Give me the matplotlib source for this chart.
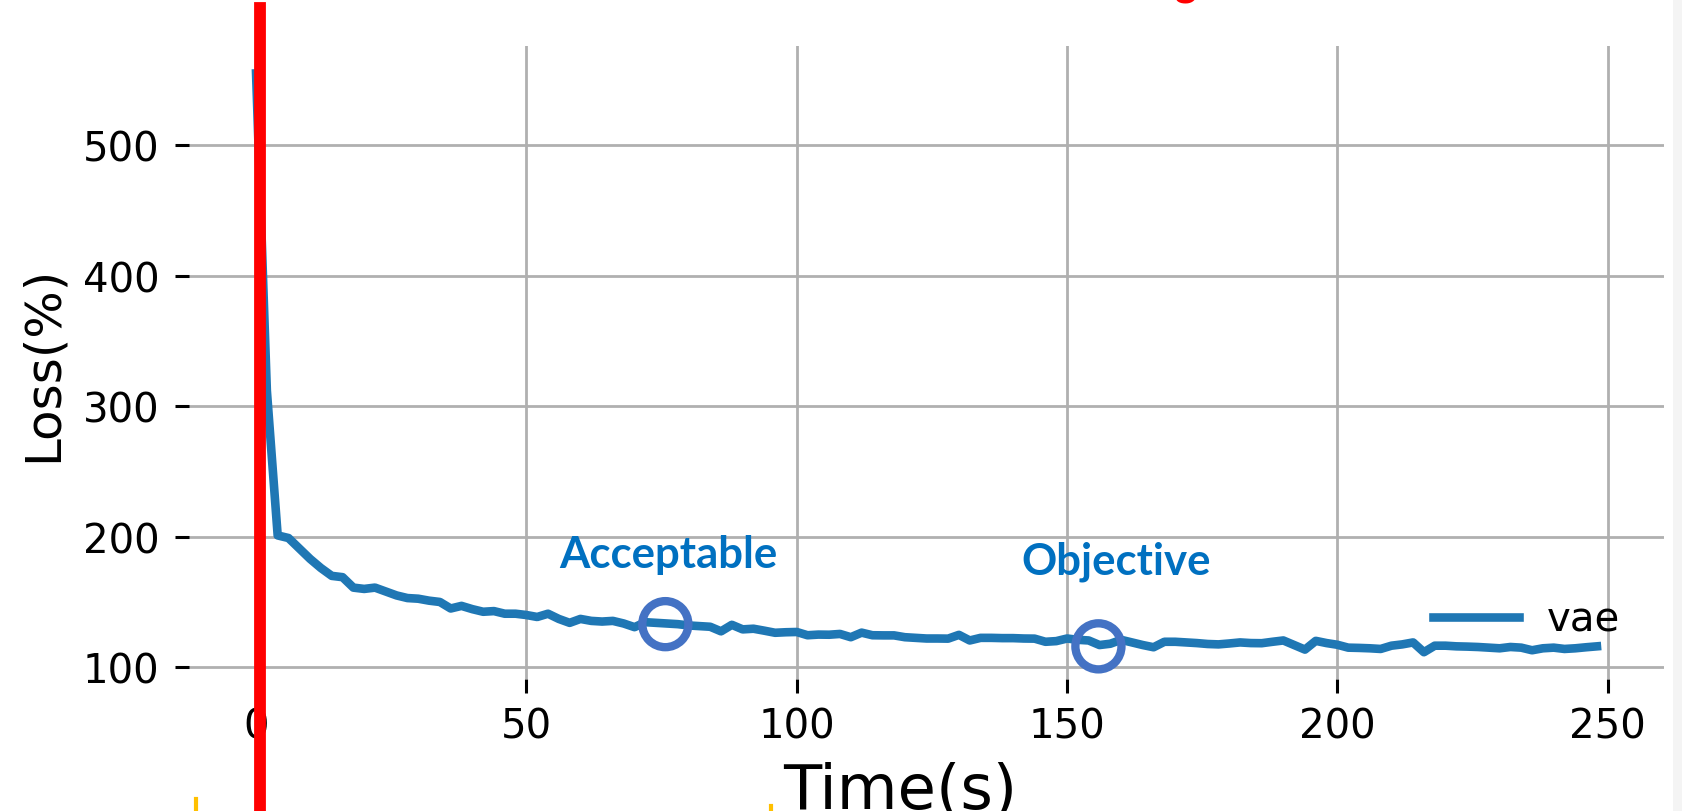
import matplotlib.pyplot as plt
from matplotlib.lines import Line2D
from matplotlib.patches import Rectangle

# loss sampled every 2 s
time_s = list(range(0, 250, 2))
loss_vae = [
    555, 312, 201, 199, 191, 183, 176, 170, 169, 161,
    160, 161, 158, 155, 153, 152.5, 151, 150, 145, 147,
    144.5, 142.5, 143, 141, 141, 140, 138.5, 141, 137, 134,
    137, 135.5, 135, 135.5, 133.5, 130.7, 134.5, 134, 133.5, 133,
    132, 131.5, 131, 127.5, 132.5, 129, 129.5, 128, 126.4, 126.8,
    127, 124.5, 125, 124.9, 125.5, 123, 126.5, 124.5, 124.4, 124.4,
    123, 122.5, 122, 122, 121.9, 124.8, 120.5, 122.5, 122.5, 122.3,
    122.3, 122, 121.9, 119.5, 120, 122, 121, 120.5, 117, 118,
    121, 119, 117, 115.3, 119.5, 119.5, 119, 118.5, 117.8, 117.5,
    118.2, 119, 118.5, 118.4, 119.5, 120.5, 117, 113.5, 120.2, 118.5,
    117.2, 115, 114.8, 114.5, 114, 116.5, 117.5, 119, 111.5, 116.5,
    116.5, 116, 115.8, 115.5, 115, 114.5, 115.5, 115, 113, 114.5,
    115, 114, 114.5, 115.3, 116,
]

milestone_labels = ['Acceptable', 'Objective']
milestone_time = [75.7, 155.8]
milestone_loss = [133, 116]
label_offsets = [(2, 41), (13, 52.5)]

fig = plt.figure(figsize=(16.83, 8.12), dpi=100)
ax = fig.add_axes([0.1123, 0.1626, 0.8764, 0.7795])

ax.plot(time_s, loss_vae, color='#1f77b4', linewidth=6.2, label='vae', zorder=3)
ax.set_ylim(91, 576)

ax.grid(True, color='#b0b0b0', linewidth=2)
ax.set_axisbelow(True)
for side in ['top', 'right', 'bottom', 'left']:
    ax.spines[side].set_visible(False)
ax.set_yticks([100, 200, 300, 400, 500])
ax.set_xticks([0, 50, 100, 150, 200, 250])
ax.tick_params(axis='both', labelsize=29, length=10, width=2.2, color='black')
ax.tick_params(axis='y', pad=11.5)
ax.tick_params(axis='x', pad=10)

ax.set_ylabel('Loss(%)', fontsize=36)
ax.yaxis.set_label_coords(-0.083, 0.5)
ax.set_xlabel('Time(s)', fontsize=45)
ax.xaxis.set_label_coords(0.482, -0.1295)

ax.legend(loc='center left', bbox_to_anchor=(0.8434, 0.0932), frameon=False,
          fontsize=29, handlelength=2.13, handletextpad=0.7,
          borderpad=0, borderaxespad=0)

# milestone circles and labels
ax.scatter(milestone_time, milestone_loss, s=1100, facecolors='none',
           edgecolors='#4472C4', linewidths=6, zorder=4)
for name, t, l, off in zip(milestone_labels, milestone_time, milestone_loss, label_offsets):
    ax.annotate(name, xy=(t, l), xytext=off, textcoords='offset points',
                ha='center', va='baseline', fontsize=31.5, fontweight='bold',
                family='Lato', color='#0070C0')

# red marker line drawn over the slide
ax.axvline(0.7, ymin=-0.2085, ymax=1.06, color='#FF0000', linewidth=8.5,
           clip_on=False, zorder=10)

# bits of slide decoration cut off at the edges
fig.text(1186 / 1683, 1.006, 'g', color='#FF0000', fontsize=30, fontweight='bold',
         family='Lato', ha='center', va='baseline')
fig.add_artist(Line2D([196 / 1683, 196 / 1683], [0, 12 / 812], color='#FFC000', linewidth=3))
fig.add_artist(Line2D([771 / 1683, 771 / 1683], [0, 5 / 812], color='#FFC000', linewidth=3))
fig.add_artist(Rectangle((1673 / 1683, 0), 10 / 1683, 1, transform=fig.transFigure,
                         facecolor='#f4f4f4', edgecolor='none'))

fig.savefig('out.png', dpi=100)
